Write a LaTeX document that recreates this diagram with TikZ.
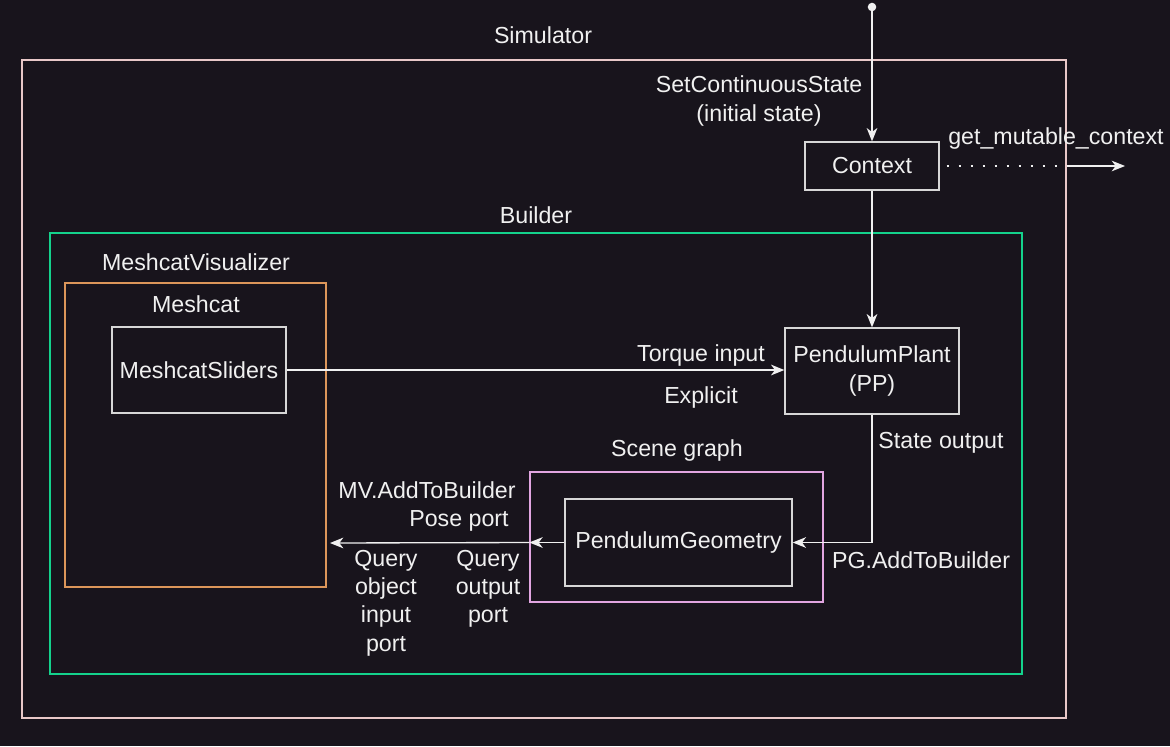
\documentclass[tikz,border=0pt]{standalone}
\usepackage{fontspec}
\setmainfont{Liberation Sans}
\usetikzlibrary{arrows.meta}
\definecolor{bg}{RGB}{24,20,28}
\definecolor{fg}{RGB}{240,240,240}
\definecolor{boxc}{RGB}{215,215,215}
\definecolor{simc}{RGB}{232,200,200}
\definecolor{bldc}{RGB}{20,210,140}
\definecolor{mvc}{RGB}{220,150,90}
\definecolor{sgc}{RGB}{225,165,225}
\tikzset{
  every node/.style={text=fg, font=\fontsize{17.4}{21.2}\selectfont, inner sep=0pt, align=center},
  blk/.style={draw=boxc, line width=1pt, fill=bg},
  cont/.style={line width=1pt},
  conn/.style={draw=fg, line width=1pt, -{Stealth[length=10pt,width=8pt,inset=3pt]}},
  lbl/.style={}
}
\begin{document}
\begin{tikzpicture}[x=0.75pt,y=-0.75pt]
\fill[bg] (0,0) rectangle (1170,746);
\useasboundingbox (0,0) rectangle (1170,746);
% containers
\node[cont, draw=simc, minimum width=783pt, minimum height=493.5pt] (sim) at (544,389) {};
\node (simlbl) at (543,35) {Simulator};
\node[cont, draw=bldc, minimum width=729pt, minimum height=330.75pt] (bld) at (536,453.5) {};
\node (bldlbl) at (536,215) {Builder};
\node[cont, draw=mvc, minimum width=195.75pt, minimum height=228pt] (mv) at (195.5,435) {};
\node (mvlbl) at (196,262) {MeshcatVisualizer};
\node (mclbl) at (196,304) {Meshcat};
\node[cont, draw=sgc, minimum width=219.75pt, minimum height=97.5pt] (sg) at (676.5,537) {};
\node (sglbl) at (677,450) {Scene graph};
% blocks
\node[blk, minimum width=100.5pt, minimum height=36pt] (ctx) at (872,166) {Context};
\node[blk, minimum width=130.5pt, minimum height=64.5pt] (pp) at (872,371) {PendulumPlant\\(PP)};
\node[blk, minimum width=130.5pt, minimum height=64.5pt] (ms) at (199,370) {MeshcatSliders};
\node[blk, minimum width=170.25pt, minimum height=65.25pt] (pg) at (678.5,542.5) {PendulumGeometry};
% top input
\coordinate (top) at (872,7);
\fill[fg] (top) circle (3.2pt);
\draw[conn] (top) -- (ctx.north);
\node (scs) at (759,101) {SetContinuousState\\(initial state)};
% get mutable context
\coordinate (simE) at (sim.east |- ctx.east);
\coordinate (out) at (1125,166);
\draw[fg, line width=2pt, dash pattern=on 2pt off 7pt] (ctx.east) ++(7,0) -- (simE);
\draw[conn] (simE) -- (out);
\node (gmc) at (1056,138) {get\_mutable\_context};
% context to plant
\draw[conn] (ctx.south) -- (pp.north);
% sliders to plant
\draw[conn] (ms.east) -- (pp.west |- ms.east);
\node (ti) at (701,355) {Torque input};
\node (ex) at (701,397) {Explicit};
% plant to geometry
\draw[conn] (pp.south) |- (pg.east);
\node (so) at (941,443) {State output};
\node (pga) at (921,560) {PG.AddToBuilder};
% geometry to visualizer
\coordinate (mvin) at (330,543);
\draw[conn] (pg.west) -- (sg.west |- pg.west);
\draw[conn] (sg.west |- pg.west) -- (mvin);
\node (mva) at (427,490) {MV.AddToBuilder};
\node (pp2) at (459,521) {Pose port};
\node (qoi) at (386,603) {Query\\object\\input\\port};
\node (qop) at (488,589) {Query\\output\\port};
\end{tikzpicture}
\end{document}
